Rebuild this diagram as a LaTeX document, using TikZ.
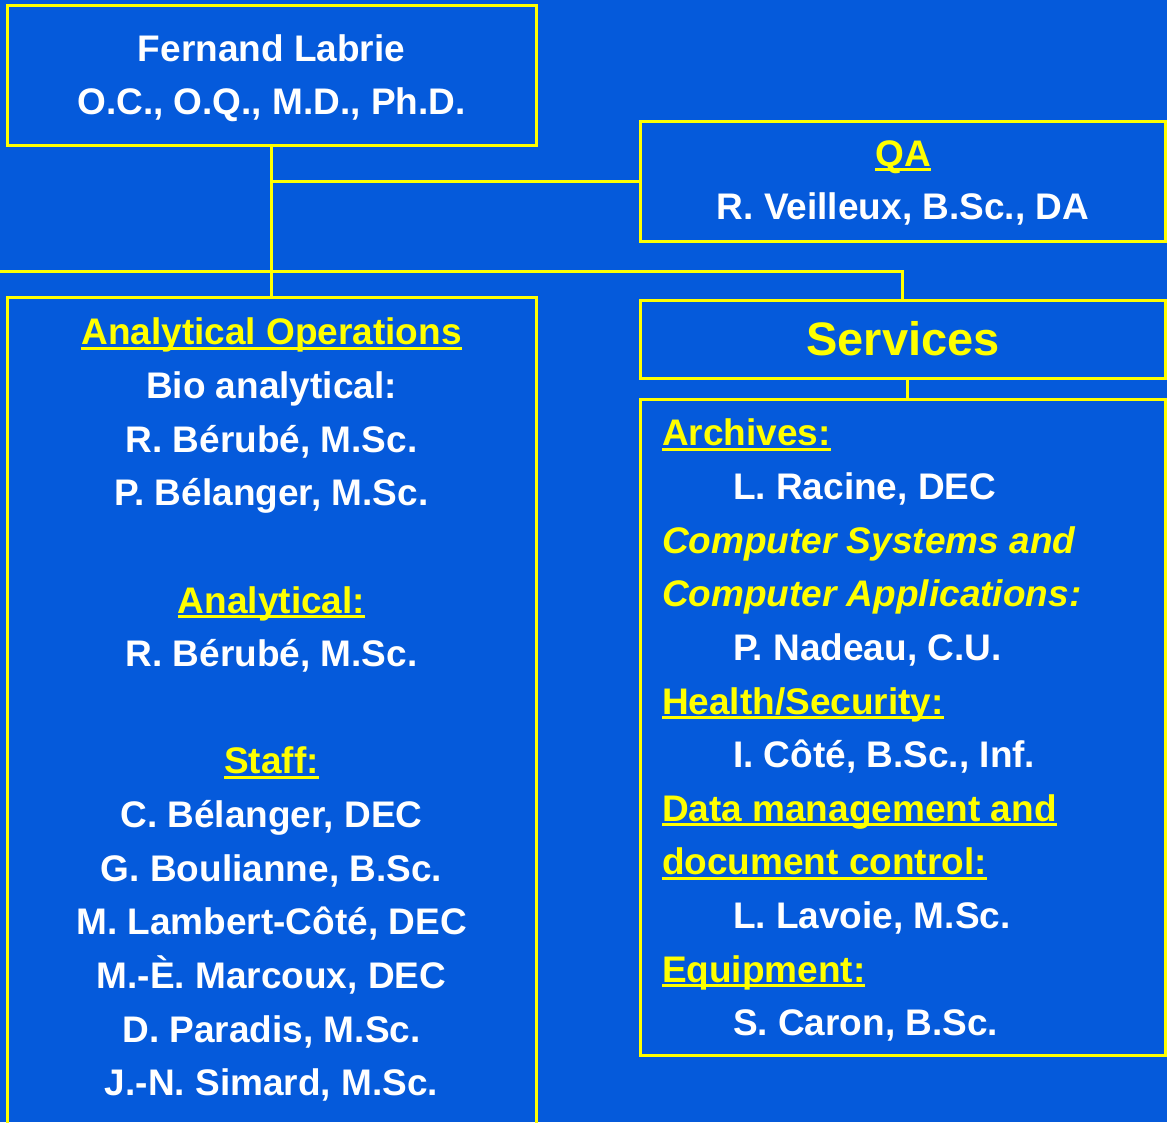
\documentclass[tikz,border=0pt]{standalone}
\usepackage{fontspec}
\setmainfont{Liberation Sans}
\definecolor{bg}{RGB}{5,90,219}
\definecolor{yl}{RGB}{255,255,0}
\newcommand\yul[1]{\setbox0\hbox{#1}\rlap{\color{yl}\rule[-5pt]{\wd0}{3pt}}\box0}
\newcommand\hd[1]{\textcolor{yl}{\yul{#1}}}
\newcommand\ind{\hspace*{71pt}}
\tikzset{
  box/.style={draw=yl, line width=3pt, inner sep=0pt, outer sep=0pt, anchor=north west},
  conn/.style={draw=yl, line width=3pt},
  txt/.style={inner sep=0pt, outer sep=0pt, text=white, font=\bfseries\fontsize{37}{53.64}\selectfont},
}
\begin{document}
\begin{tikzpicture}[x=1pt,y=-1pt]
\useasboundingbox (0,0) rectangle (1167,1122);
\fill[bg] (0,0) rectangle (1167,1122);

% boxes
\node[box, minimum width=529pt, minimum height=140pt] (top) at (7,5) {};
\node[box, minimum width=525.5pt, minimum height=120.7pt] (qa) at (640,121) {};
\node[box, minimum width=529pt, minimum height=860pt] (lb) at (7,297.5) {};
\node[box, minimum width=525.5pt, minimum height=78pt] (sv) at (640,300.5) {};
\node[box, minimum width=525.5pt, minimum height=656pt] (sd) at (640,399) {};

% connectors
\coordinate (l0) at (-5,271);
\draw[conn] (top.south) -- (lb.north);
\draw[conn] (top.south |- qa.west) -- (qa.west);
\draw[conn] (l0) -| (sv.north);
\draw[conn] ([xshift=5pt]sv.south) -- ([xshift=5pt]sd.north);

% texts
\node[txt, anchor=north, align=center] (toptext) at (271.5,23.5)
  {\strut Fernand Labrie\\\strut O.C., O.Q., M.D., Ph.D.};
\node[txt, anchor=north, align=center] (qatext) at (903,128.7)
  {\strut\hd{QA}\\\strut R. Veilleux, B.Sc., DA};
\node[txt, anchor=base, text=yl, font=\bfseries\fontsize{47}{56}\selectfont] (svtext) at (903,355.5) {Services};
\node[txt, anchor=north, align=center] (lbtext) at (271.5,307.3)
  {\strut\hd{Analytical Operations}\\
   \strut Bio analytical:\\
   \strut R. Bérubé, M.Sc.\\
   \strut P. Bélanger, M.Sc.\\
   \strut\\
   \strut\hd{Analytical:}\\
   \strut R. Bérubé, M.Sc.\\
   \strut\\
   \strut\hd{Staff:}\\
   \strut C. Bélanger, DEC\\
   \strut G. Boulianne, B.Sc.\\
   \strut M. Lambert-Côté, DEC\\
   \strut M.-È. Marcoux, DEC\\
   \strut D. Paradis, M.Sc.\\
   \strut J.-N. Simard, M.Sc.};
\node[txt, anchor=north west, align=left] (sdtext) at (662,408.3)
  {\strut\hd{Archives:}\\
   \strut\ind L. Racine, DEC\\
   \strut\textcolor{yl}{\itshape Computer Systems and}\\
   \strut\textcolor{yl}{\itshape Computer Applications:}\\
   \strut\ind P. Nadeau, C.U.\\
   \strut\hd{Health/Security:}\\
   \strut\ind I. Côté, B.Sc., Inf.\\
   \strut\hd{Data management and}\\
   \strut\hd{document control:}\\
   \strut\ind L. Lavoie, M.Sc.\\
   \strut\hd{Equipment:}\\
   \strut\ind S. Caron, B.Sc.};
\end{tikzpicture}
\end{document}
